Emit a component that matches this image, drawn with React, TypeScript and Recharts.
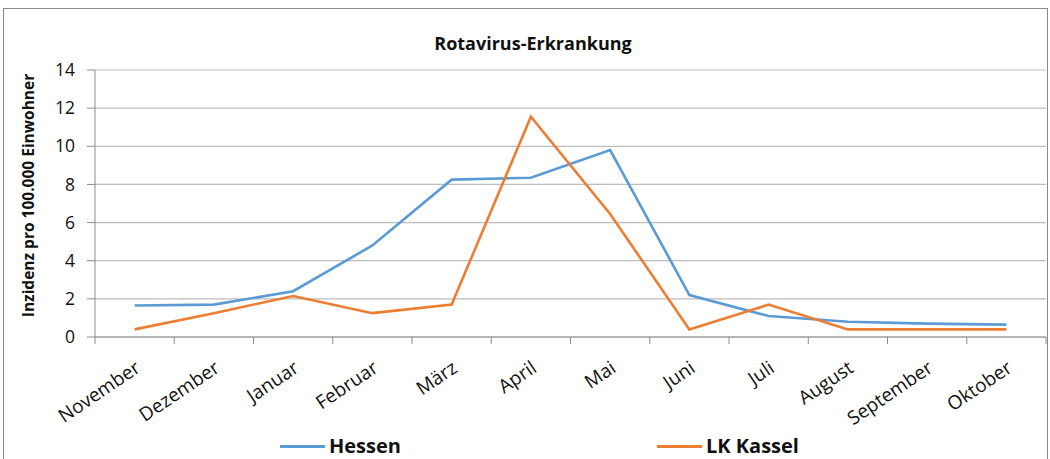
import React from "react";
import {
  CartesianGrid,
  Legend,
  Line,
  LineChart,
  XAxis,
  YAxis,
} from "recharts";

const months = [
  "November",
  "Dezember",
  "Januar",
  "Februar",
  "März",
  "April",
  "Mai",
  "Juni",
  "Juli",
  "August",
  "September",
  "Oktober",
];
const hessen = [1.65, 1.7, 2.4, 4.8, 8.25, 8.35, 9.8, 2.2, 1.1, 0.8, 0.7, 0.65];
const lkKassel = [0.4, 1.25, 2.15, 1.25, 1.7, 11.55, 6.45, 0.4, 1.7, 0.4, 0.4, 0.4];
const yTicks = [0, 2, 4, 6, 8, 10, 12, 14];

const title = "Rotavirus-Erkrankung";
const yLabel = "Inzidenz pro 100.000 Einwohner";

const W = 1050;
const H = 459;
const PLOT_LEFT = 95;
const PLOT_RIGHT = 4;
const HALF_STEP = (W - PLOT_LEFT - PLOT_RIGHT) / months.length / 2;
const FONT = '"Open Sans", sans-serif';

const data = months.map((m, i) => ({
  month: m,
  x: i + 0.5,
  hessen: hessen[i],
  kassel: lkKassel[i],
}));

const seriesStyle = [
  { key: "hessen", name: "Hessen", color: "#5B9BD5", legendX: 280 },
  { key: "kassel", name: "LK Kassel", color: "#ED7D31", legendX: 657 },
];

const MonthTick = (props: any) => {
  const { x, y, payload } = props;
  const label = months[payload.value];
  if (!label) return <g />;
  const ax = x + HALF_STEP + 7;
  const ay = y + 25;
  return (
    <text
      x={ax}
      y={ay}
      textAnchor="end"
      fontSize={19}
      fill="#111"
      fontFamily={FONT}
      transform={`rotate(-34 ${ax} ${ay})`}
    >
      {label}
    </text>
  );
};

const YLabel = (props: any) => {
  const { viewBox } = props;
  const cx = 28;
  const cy = viewBox.y + viewBox.height / 2 - 8;
  return (
    <text
      x={cx}
      y={cy}
      textAnchor="middle"
      dominantBaseline="central"
      fontSize={15.5}
      fontWeight={700}
      fill="#111"
      fontFamily={FONT}
      transform={`rotate(-90 ${cx} ${cy})`}
    >
      {yLabel}
    </text>
  );
};

const LegendContent = () => (
  <div style={{ position: "relative", width: W, height: 30, fontFamily: FONT }}>
    {seriesStyle.map((s) => (
      <div
        key={s.key}
        style={{
          position: "absolute",
          left: s.legendX,
          top: 3,
          display: "flex",
          alignItems: "center",
          whiteSpace: "nowrap",
        }}
      >
        <span
          style={{
            display: "inline-block",
            width: 45,
            height: 3,
            background: s.color,
            marginRight: 4,
          }}
        />
        <span style={{ fontSize: 20, fontWeight: 700, color: "#111", lineHeight: "28px" }}>
          {s.name}
        </span>
      </div>
    ))}
  </div>
);

export default function App() {
  return (
    <div
      style={{
        position: "absolute",
        left: 0,
        top: 0,
        width: W,
        height: H,
        background: "#fff",
        overflow: "hidden",
        fontFamily: FONT,
      }}
    >
      <div
        style={{
          position: "absolute",
          left: 3,
          top: 8,
          width: 1043,
          height: 470,
          border: "1.5px solid #8a8a8a",
        }}
      />
      <div
        style={{
          position: "absolute",
          left: 0,
          top: 31,
          width: W + 16,
          textAlign: "center",
          fontSize: 18,
          fontWeight: 700,
          color: "#111",
        }}
      >
        {title}
      </div>
      <div style={{ position: "absolute", left: 0, top: 0 }}>
        <LineChart
          width={W}
          height={H}
          data={data}
          margin={{ top: 70, right: PLOT_RIGHT, left: 0, bottom: 0 }}
        >
          <CartesianGrid vertical={false} stroke="#bdbdbd" strokeWidth={1.2} />
          <XAxis
            type="number"
            dataKey="x"
            domain={[0, months.length]}
            ticks={months.map((_, i) => i).concat([months.length])}
            interval={0}
            height={92}
            tickSize={7}
            stroke="#8c8c8c"
            tick={<MonthTick />}
          />
          <YAxis
            domain={[0, 14]}
            ticks={yTicks}
            interval={0}
            width={PLOT_LEFT}
            tickSize={8}
            tickMargin={12}
            stroke="#8c8c8c"
            tick={{ fill: "#111", fontSize: 17.5, fontFamily: FONT }}
            label={<YLabel />}
          />
          <Legend verticalAlign="bottom" content={<LegendContent />} wrapperStyle={{ left: 0, width: W }} />
          {seriesStyle.map((s) => (
            <Line
              key={s.key}
              type="linear"
              dataKey={s.key}
              name={s.name}
              stroke={s.color}
              strokeWidth={2.6}
              dot={false}
              isAnimationActive={false}
            />
          ))}
        </LineChart>
      </div>
    </div>
  );
}
